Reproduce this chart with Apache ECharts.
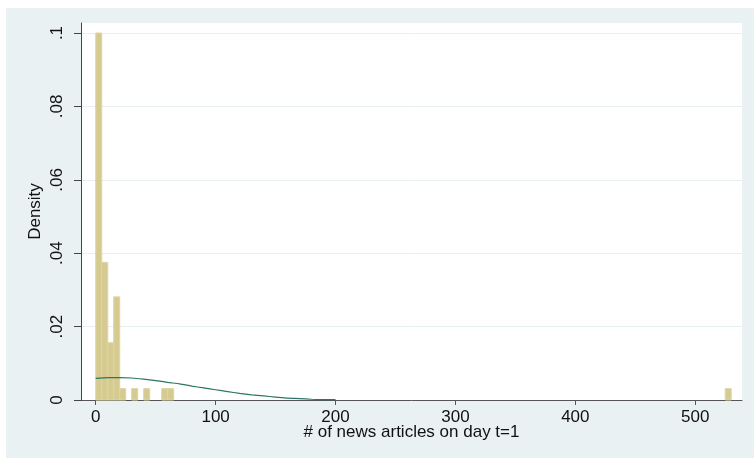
<!DOCTYPE html>
<html>
<head>
<meta charset="utf-8">
<script src="https://cdn.jsdelivr.net/npm/echarts@6/dist/echarts.min.js"></script>
<style>
  html, body { margin: 0; padding: 0; background: #ffffff; }
  #bg { position: absolute; left: 6px; top: 8px; width: 748px; height: 450px; background: #E9F1F3; }
  #chart { position: absolute; left: 0; top: 0; width: 754px; height: 458px; }
</style>
</head>
<body>
<div id="bg"></div>
<div id="chart"></div>
<script>
// Histogram bins (# of news articles on day t=1) and their densities
const binStarts = [0, 5, 10, 15, 20, 30, 40, 55, 60, 525];
const binEnds   = [5, 10, 15, 20, 25, 35, 45, 60, 65, 530];
const densities = [0.1, 0.0375, 0.0156, 0.0281, 0.0031, 0.0031, 0.0031, 0.0031, 0.0031, 0.0031];

// Normal density overlay
const curveX = [0, 10, 20, 30, 40, 50, 60, 70, 80, 90, 100, 110, 120, 130, 140, 150, 160, 170, 180, 190, 200];
const curveY = [0.0059, 0.0061, 0.0061, 0.0060, 0.0057, 0.0053, 0.0048, 0.0044, 0.0038, 0.0033, 0.0028,
                0.0023, 0.0018, 0.0014, 0.0011, 0.0008, 0.0005, 0.0004, 0.0002, 0.0001, 0.0001];

// Tick values and labels
const xTicks = [0, 100, 200, 300, 400, 500];
const xTickLabels = ['0', '100', '200', '300', '400', '500'];
const yTicks = [0, 0.02, 0.04, 0.06, 0.08, 0.1];
const yTickLabels = ['0', '.02', '.04', '.06', '.08', '.1'];

const binData = binStarts.map((s, i) => [s, binEnds[i], densities[i]]);
const curveData = curveX.map((x, i) => [x, curveY[i]]);

function lookupLabel(ticks, labels, v) {
  for (let i = 0; i < ticks.length; i++) {
    if (Math.abs(ticks[i] - v) < 1e-9) return labels[i];
  }
  return '';
}

const FONT = '"Liberation Sans", Arial, sans-serif';
const chart = echarts.init(document.getElementById('chart'), null, { renderer: 'canvas' });

chart.setOption({
  backgroundColor: 'transparent',
  animation: false,
  grid: {
    left: 81, right: 12, top: 23, bottom: 58,
    show: true, backgroundColor: '#ffffff', borderWidth: 0
  },
  xAxis: {
    type: 'value',
    min: -12.3, max: 539,
    name: '# of news articles on day t=1',
    nameLocation: 'middle',
    nameGap: 24,
    nameMoveOverlap: false,
    nameTextStyle: { color: '#111', fontFamily: FONT, fontSize: 17, verticalAlign: 'top' },
    axisLine: { show: true, onZero: false, lineStyle: { color: '#555', width: 1 } },
    axisTick: { show: true, length: 5, customValues: xTicks, lineStyle: { color: '#555' } },
    axisLabel: {
      customValues: xTicks, margin: 9, color: '#111', fontFamily: FONT, fontSize: 17,
      formatter: v => lookupLabel(xTicks, xTickLabels, v)
    },
    splitLine: { show: false }
  },
  yAxis: {
    type: 'value',
    min: 0, max: 0.10273, interval: 0.02,
    name: 'Density',
    nameLocation: 'middle',
    nameGap: 37,
    nameMoveOverlap: false,
    nameRotate: 90,
    nameTextStyle: { color: '#111', fontFamily: FONT, fontSize: 17 },
    axisLine: { show: true, onZero: false, lineStyle: { color: '#444', width: 1 } },
    axisTick: { show: true, length: 7, customValues: yTicks, lineStyle: { color: '#444' } },
    axisLabel: {
      customValues: yTicks, rotate: 90, margin: 15, color: '#111', fontFamily: FONT, fontSize: 17,
      formatter: v => lookupLabel(yTicks, yTickLabels, v)
    },
    splitLine: { show: true, lineStyle: { color: '#E6EEF0', width: 1 } }
  },
  series: [
    {
      type: 'custom',
      data: binData,
      encode: { x: [0, 1], y: 2 },
      renderItem: function (params, api) {
        const x0 = api.value(0), x1 = api.value(1), h = api.value(2);
        const pTop = api.coord([x0, h]);
        const pBot = api.coord([x1, 0]);
        return {
          type: 'rect',
          shape: { x: pTop[0], y: pTop[1], width: pBot[0] - pTop[0], height: pBot[1] - pTop[1] },
          style: { fill: '#D5CB91', stroke: '#DDD5A3', lineWidth: 1 }
        };
      },
      z: 2
    },
    {
      type: 'line',
      data: curveData,
      showSymbol: false,
      smooth: 0.2,
      lineStyle: { color: '#2A7565', width: 1.2 },
      z: 3
    }
  ]
});
</script>
</body>
</html>
